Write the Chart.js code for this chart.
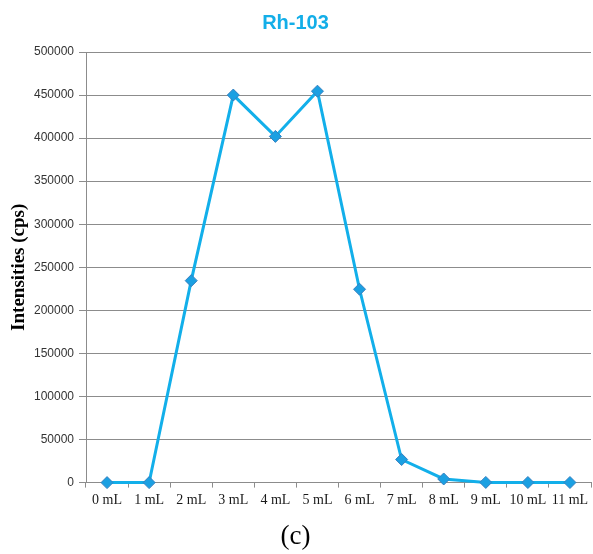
<!DOCTYPE html>
<html>
<head>
<meta charset="utf-8">
<script src="https://cdn.jsdelivr.net/npm/chart.js@4"></script>
<style>
  html, body { margin: 0; padding: 0; background: #fff; }
  #wrap { width: 593px; height: 554px; }
</style>
</head>
<body>
<div id="wrap"><canvas id="grafico"></canvas></div>
<script>
const categorias = ["0 mL", "1 mL", "2 mL", "3 mL", "4 mL", "5 mL", "6 mL", "7 mL", "8 mL", "9 mL", "10 mL", "11 mL"];
const intensidades = [0, 0, 234500, 450000, 402000, 454500, 224500, 26800, 4200, 200, 100, 100];
const ticksY = [0, 50000, 100000, 150000, 200000, 250000, 300000, 350000, 400000, 450000, 500000];

const gris = "#8c8c8c";
const ctx = document.getElementById("grafico").getContext("2d");

new Chart(ctx, {
  type: "line",
  data: {
    labels: categorias,
    datasets: [{
      label: "Rh-103",
      data: intensidades,
      borderColor: "#12afea",
      borderWidth: 3,
      pointStyle: "rectRot",
      pointRadius: 6,
      pointBackgroundColor: "#1ba0e2",
      pointBorderColor: "#3580c0",
      pointBorderWidth: 1,
      tension: 0,
      clip: false
    }]
  },
  options: {
    responsive: true,
    maintainAspectRatio: false,
    animation: false,
    layout: { autoPadding: false, padding: { right: 2 } },
    plugins: {
      legend: { display: false },
      tooltip: { enabled: false },
      title: {
        display: true,
        text: "Rh-103",
        color: "#13aee8",
        font: { family: "Liberation Sans", size: 20, weight: "bold" },
        padding: { top: 11, bottom: 17 }
      },
      subtitle: {
        display: true,
        position: "bottom",
        text: "(c)",
        color: "#000",
        font: { family: "Liberation Serif", size: 27 },
        padding: { top: 6, bottom: 1 }
      }
    },
    scales: {
      x: {
        offset: true,
        grid: {
          offset: true,
          drawOnChartArea: false,
          drawTicks: true,
          tickLength: 5,
          color: gris
        },
        border: { color: gris, width: 1 },
        ticks: {
          color: "#1a1a1a",
          font: { family: "Liberation Serif", size: 14 },
          maxRotation: 0,
          autoSkip: false,
          padding: 4
        },
        afterFit: (s) => { s.height = 32; s.paddingLeft = 0; s.paddingRight = 0; }
      },
      y: {
        min: 0,
        max: 500000,
        afterBuildTicks: (s) => { s.ticks = ticksY.map((v) => ({ value: v })); },
        grid: { color: gris, lineWidth: 1, tickLength: 7 },
        border: { color: gris, width: 1 },
        ticks: {
          color: "#333333",
          font: { family: "Liberation Sans", size: 12 },
          padding: 5,
          callback: (v) => String(v)
        },
        title: {
          display: true,
          text: "Intensities (cps)",
          color: "#000",
          font: { family: "Liberation Serif", size: 19, weight: "bold" },
          padding: { top: 8, bottom: 0 }
        },
        afterFit: (s) => { s.width = 86; }
      }
    }
  }
});
</script>
</body>
</html>
